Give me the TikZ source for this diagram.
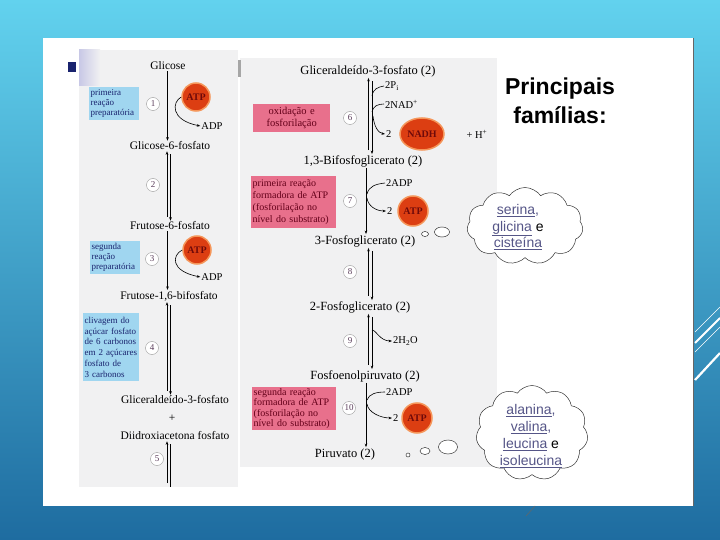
\documentclass[tikz,border=0pt]{standalone}
\usepackage{fontspec}
\setmainfont{Liberation Serif}
\newfontfamily\sansf{Liberation Sans}
\usetikzlibrary{arrows.meta,shapes.geometric,shapes.symbols}
\definecolor{bgtop}{RGB}{98,210,238}
\definecolor{bgbot}{RGB}{30,108,160}
\definecolor{imggray}{RGB}{241,241,242}
\definecolor{bluebox}{RGB}{160,214,240}
\definecolor{pinkbox}{RGB}{232,112,140}
\definecolor{atpred}{RGB}{220,62,18}
\definecolor{atpglow}{RGB}{245,150,90}
\definecolor{atptext}{RGB}{110,10,10}
\definecolor{cloudtxt}{RGB}{85,85,135}
\definecolor{navy}{RGB}{25,35,110}
\definecolor{darkred}{RGB}{100,0,25}
\definecolor{numcol}{RGB}{90,60,90}
\tikzset{
  metl/.style={font=\fontsize{11.5}{13}\selectfont, inner sep=1pt},
  met/.style={font=\fontsize{12.5}{14}\selectfont, inner sep=1pt},
  side/.style={font=\fontsize{10.5}{12}\selectfont, inner sep=1pt, anchor=west},
  num/.style={circle, draw=gray!80, fill=white, inner sep=0pt, minimum size=13pt, text=numcol, font=\fontsize{9}{10}\selectfont},
  bbox/.style={fill=bluebox, text=navy, align=left, anchor=north west, inner xsep=1.5pt, inner ysep=1.5pt, font=\fontsize{9}{10}\selectfont},
  pbox/.style={fill=pinkbox, text=darkred, align=left, anchor=north west, inner xsep=1.5pt, inner ysep=1pt, font=\fontsize{10}{12.3}\selectfont},
  atp/.style={circle, fill=atpred, draw=atpglow, line width=1.5pt, minimum size=28pt, inner sep=0pt, text=atptext, font=\bfseries\fontsize{10}{11}\selectfont},
  arr/.style={-{Stealth[length=3.5pt,width=2.6pt]}, line width=0.6pt},
  thinl/.style={line width=0.6pt},
  bubble/.style={ellipse, draw=black!80, line width=0.5pt, fill=white, inner sep=0pt},
  cloudtext/.style={text=cloudtxt, font=\sansf\fontsize{14}{16.8}\selectfont, align=center}
}
\begin{document}
\begin{tikzpicture}[x=1pt,y=-1pt]
\useasboundingbox (0,0) rectangle (720,540);
% background
\shade[top color=bgtop, bottom color=bgbot] (0,0) rectangle (720,540);
\fill[white] (43,38) rectangle (693,506);
\draw[black!60, line width=0.8pt] (693,38) -- (693,506);
% decorative lines
\draw[white, line width=0.5pt] (695,332) -- (720,307);
\draw[white, line width=2pt] (695,343) -- (720,318);
\draw[white, line width=0.5pt] (695,352) -- (720,327);
\draw[white, line width=2.2pt] (695,380) -- (720,353);
\draw[black!60, line width=0.5pt] (526,516) -- (535,506);
% image backgrounds
\fill[imggray] (79,50) rectangle (238,487);
\shade[left color={rgb,255:red,200;green,200;blue,230}, right color=imggray] (79,50) rectangle (100,86);
\fill[imggray] (240,58) rectangle (497,467);
\fill[black!35] (238,60) rectangle (241,77);
\fill[navy] (68,62) rectangle (76,72);
% title
\node[font=\sansf\bfseries\fontsize{23}{29}\selectfont, align=center] (title) at (560,101) {Principais\\famílias:};

% ===== left column =====
\coordinate (LS) at (167.5,0);
\coordinate (L1) at (167,0);
\coordinate (L2) at (170.5,0);
\node[metl] (glc) at (168,66) {Glicose};
\node[metl] (g6p) at (170,146) {Glicose-6-fosfato};
\node[metl] (f6p) at (170,226) {Frutose-6-fosfato};
\node[metl] (f16) at (169,296) {Frutose-1,6-bifosfato};
\node[metl] (ga3) at (175,400) {Gliceraldeído-3-fosfato};
\node[metl] (plus) at (172,418) {+};
\node[metl] (dha) at (175,436) {Diidroxiacetona fosfato};
\coordinate (lend) at (168,487);

\node[atp] (atp1) at (196,97) {ATP};
\node[side, anchor=center] (adp1) at (212,126) {ADP};
\node[num] (n1) at (153,104) {1};
\node[bbox, minimum width=50pt, minimum height=33pt, text width=47pt] (b1) at (89,87) {primeira\\reação\\preparatória};
\node[num] (n2) at (153,185) {2};
\node[atp] (atp3) at (197,250) {ATP};
\node[side, anchor=center] (adp3) at (212,277) {ADP};
\node[num] (n3) at (152,259) {3};
\node[bbox, minimum width=50pt, minimum height=33pt, text width=47pt] (b3) at (90,241) {segunda\\reação\\preparatória};
\node[num] (n4) at (152,348) {4};
\node[bbox, font=\fontsize{9}{10.8}\selectfont, minimum width=56pt, minimum height=68pt, text width=53pt] (b4) at (83,313) {clivagem do\\açúcar fosfato\\de 6 carbonos\\em 2 açúcares\\fosfato de\\3 carbonos};
\node[num] (n5) at (157,459) {5};

% step 1
\draw[arr] (glc.south -| LS) -- (g6p.north -| LS);
\draw[arr] (atp1.west) .. controls (172,102) and (170,120) .. (adp1.west);
% step 2
\draw[arr, shorten <=4pt] (f6p.north -| L1) -- (g6p.south -| L1);
\draw[arr, shorten <=3pt] (g6p.south -| L2) -- (f6p.north -| L2);
% step 3
\draw[arr] (f6p.south -| LS) -- (f16.north -| LS);
\draw[arr] (atp3.west) .. controls (172,255) and (170,271) .. (adp3.west);
% step 4
\draw[arr, shorten <=4pt] (ga3.north -| L1) -- (f16.south -| L1);
\draw[arr, shorten <=3pt] (f16.south -| L2) -- (ga3.north -| L2);
% step 5
\draw[arr, shorten <=4pt] (lend -| L1) -- (dha.south -| L1);
\draw[thinl, shorten <=3pt] (dha.south -| L2) -- (lend -| L2);

% ===== right column =====
\coordinate (RS) at (366,0);
\coordinate (R1) at (368.5,0);
\coordinate (R2) at (372,0);
\node[met] (ga3b) at (368,71) {Gliceraldeído-3-fosfato (2)};
\node[met] (bpg) at (363,161) {1,3-Bifosfoglicerato (2)};
\node[met] (pg3) at (365,241) {3-Fosfoglicerato (2)};
\node[met] (pg2) at (360,307) {2-Fosfoglicerato (2)};
\node[met] (pep) at (365,376) {Fosfoenolpiruvato (2)};
\node[met] (pyr) at (345,454) {Piruvato (2)};

\node[side] (pi) at (384,86) {2P\textsubscript{i}};
\node[side] (nad) at (384,104) {2NAD\textsuperscript{+}};
\node[side] (two6) at (385,134) {2};
\node[ellipse, fill=atpred, draw=atpglow, line width=1.5pt, minimum width=44pt, minimum height=32pt, inner sep=0pt, text=atptext, font=\bfseries\fontsize{10}{11}\selectfont] (nadh) at (422,134) {NADH};
\node[side, anchor=center] (hplus) at (477,134) {+ H\textsuperscript{+}};
\node[num] (n6) at (350,118) {6};
\node[pbox, align=center, font=\fontsize{10.5}{12.5}\selectfont, minimum width=77pt, minimum height=28pt, text width=74pt] (p6) at (253,104) {oxidação e\\fosforilação};

\node[side] (adp7) at (385,183) {2ADP};
\node[side] (two7) at (386,211) {2};
\node[atp, minimum size=30pt] (atp7) at (413,211) {ATP};
\node[num] (n7) at (350,201) {7};
\node[pbox, minimum width=85pt, minimum height=52pt, text width=82pt] (p7) at (251,176) {primeira reação\\formadora de ATP\\(fosforilação no\\nível do substrato)};

\node[num] (n8) at (350,272) {8};
\node[num] (n9) at (350,341) {9};
\node[side] (h2o) at (392,341) {2H\textsubscript{2}O};

\node[side] (adp10) at (385,392) {2ADP};
\node[side] (two10) at (392,418) {2};
\node[atp, minimum size=30pt] (atp10) at (417,418) {ATP};
\node[num] (n10) at (349,408) {10};
\node[pbox, font=\fontsize{10}{10.5}\selectfont, minimum width=84pt, minimum height=43pt, text width=81pt] (p10) at (252,387) {segunda reação\\formadora de ATP\\(fosforilação no\\nível do substrato)};

% step 6
\draw[arr, shorten <=4pt] (bpg.north -| R1) -- (ga3b.south -| R1);
\draw[arr, shorten <=3pt] (ga3b.south -| R2) -- (bpg.north -| R2);
\coordinate (c6a) at (372,96);
\coordinate (c6b) at (372,112);
\coordinate (c6c) at (373,116);
\draw[thinl] (c6a) .. controls (373,89) and (378,87) .. (pi.west);
\draw[thinl] (c6b) .. controls (373,106) and (378,104) .. (nad.west);
\draw[arr] (c6c) .. controls (374,126) and (378,133) .. (two6.west);
% step 7
\draw[arr] (bpg.south -| RS) -- (pg3.north -| RS);
\coordinate (c7a) at (367,194);
\coordinate (c7b) at (367,198);
\draw[thinl] (c7a) .. controls (369,186) and (376,184) .. (adp7.west);
\draw[arr] (c7b) .. controls (368,206) and (376,211) .. (two7.west);
% step 8
\draw[arr, shorten <=4pt] (pg2.north -| R1) -- (pg3.south -| R1);
\draw[arr, shorten <=3pt] (pg3.south -| R2) -- (pg2.north -| R2);
% step 9
\draw[arr, shorten <=4pt] (pep.north -| R1) -- (pg2.south -| R1);
\draw[arr, shorten <=3pt] (pg2.south -| R2) -- (pep.north -| R2);
\coordinate (c9) at (372,330);
\draw[arr] (c9) .. controls (376,330) and (380,341) .. (h2o.west);
% step 10
\draw[arr] (pep.south -| RS) -- (pyr.north -| RS);
\coordinate (c10a) at (367,400);
\coordinate (c10b) at (367,404);
\draw[thinl] (c10a) .. controls (369,394) and (376,392) .. (adp10.west);
\draw[arr] (c10b) .. controls (368,412) and (380,418) .. (two10.west);

% ===== clouds =====
\node[cloud, draw=black!80, line width=0.5pt, fill=white, cloud puffs=11, cloud puff arc=110, aspect=1.5, minimum width=116pt, minimum height=77pt, inner sep=0pt] (cl1) at (525,226) {};
\node[cloudtext] (cl1t) at (518,227) {\underline{serina},\\\underline{glicina} \textcolor{black}{e}\\\underline{cisteína}};
\node[bubble, minimum width=7pt, minimum height=5pt] (b1a) at (425,234) {};
\node[bubble, minimum width=15pt, minimum height=10pt] (b1b) at (442,232) {};

\node[cloud, draw=black!80, line width=0.5pt, fill=white, cloud puffs=11, cloud puff arc=110, aspect=1.3, minimum width=112pt, minimum height=95pt, inner sep=0pt] (cl2) at (532,433) {};
\node[cloudtext] (cl2t) at (531,436) {\underline{alanina},\\\underline{valina},\\\underline{leucina} \textcolor{black}{e}\\\underline{isoleucina}};
\node[bubble, minimum width=4pt, minimum height=4pt] (b2o) at (408,455) {};
\node[bubble, minimum width=10pt, minimum height=7pt] (b2a) at (425,451) {};
\node[bubble, minimum width=19pt, minimum height=14pt] (b2b) at (448,447) {};
\end{tikzpicture}
\end{document}
